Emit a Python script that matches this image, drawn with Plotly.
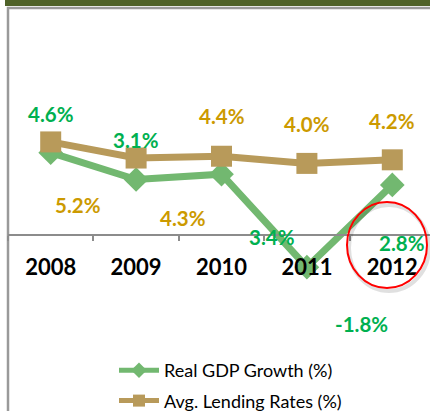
import plotly.graph_objects as go

# Categories and series values
years = ["2008", "2009", "2010", "2011", "2012"]
gdp_growth = [4.6, 3.1, 3.4, -1.8, 2.8]
lending_rates = [5.2, 4.3, 4.4, 4.0, 4.2]

# Per-point label offsets in pixels (x, y up-positive)
gdp_label_shift = [(0, 39), (0, 40), (50, -63), (55, -57), (10, -58)]
lending_label_shift = [(27, -63), (47, -60), (0, 40), (0, 39), (0, 39)]

GREEN_LINE = "#72b870"
TAN_LINE = "#b89a5a"
GREEN_TEXT = "#00b050"
GOLD_TEXT = "#cc9a00"
FONT = "Lato"

W, H = 430, 411
ML, MR, MT, MB = 8, 0, 9, 0
PW, PH = W - ML - MR, H - MT - MB
PX_PER_UNIT = 17.9
ZERO_PX = 235  # pixel row of the value axis zero
PX_PER_CAT = 85.4


def px_x(p):
    return (p - ML) / PW


def px_y(p):
    return (H - MB - p) / PH


y_top = (ZERO_PX - MT) / PX_PER_UNIT
y_bot = -(H - MB - ZERO_PX) / PX_PER_UNIT

fig = go.Figure()
fig.add_trace(go.Scatter(
    x=years, y=gdp_growth, name="Real GDP Growth (%)", mode="lines+markers",
    line=dict(color=GREEN_LINE, width=7),
    marker=dict(symbol="diamond", size=19, color=GREEN_LINE),
    legendgroup="gdp", cliponaxis=False,
))
fig.add_trace(go.Scatter(
    x=years, y=lending_rates, name="Avg. Lending Rates (%)", mode="lines+markers",
    line=dict(color=TAN_LINE, width=7),
    marker=dict(symbol="square", size=21, color=TAN_LINE),
    legendgroup="lend", cliponaxis=False,
))

annotations = []
# category axis: annotations are placed by category index
for i, (v, (dx, dy)) in enumerate(zip(gdp_growth, gdp_label_shift)):
    annotations.append(dict(x=i, y=v, xref="x", yref="y", text=f"{v:.1f}%",
                            showarrow=False, xshift=dx, yshift=dy,
                            font=dict(family=FONT, size=20.5, color=GREEN_TEXT, weight="bold")))
for i, (v, (dx, dy)) in enumerate(zip(lending_rates, lending_label_shift)):
    annotations.append(dict(x=i, y=v, xref="x", yref="y", text=f"{v:.1f}%",
                            showarrow=False, xshift=dx, yshift=dy,
                            font=dict(family=FONT, size=20.5, color=GOLD_TEXT, weight="bold")))

# Title text in the header bar (mostly above the visible area)
annotations.append(dict(x=px_x(214), y=px_y(5), xref="paper", yref="paper",
                        text="Rates", showarrow=False, xanchor="center", yanchor="bottom",
                        font=dict(family=FONT, size=22, color="white", weight="bold")))

shapes = [
    # header bar
    dict(type="rect", xref="paper", yref="paper", x0=px_x(5), x1=px_x(440),
         y0=px_y(6), y1=px_y(-5), fillcolor="#4f6228", line=dict(width=0), layer="below"),
    # chart-area border
    dict(type="rect", xref="paper", yref="paper", x0=px_x(8), x1=px_x(460),
         y0=px_y(440), y1=px_y(8), line=dict(color="#9a9a9a", width=2.5),
         fillcolor="rgba(0,0,0,0)", layer="below"),
    # highlight ring shadow
    dict(type="circle", xref="paper", yref="paper", x0=px_x(349), x1=px_x(429),
         y0=px_y(291), y1=px_y(205), line=dict(color="rgba(0,0,0,0.12)", width=4),
         layer="above"),
    # highlight ring
    dict(type="circle", xref="paper", yref="paper", x0=px_x(347), x1=px_x(427),
         y0=px_y(288), y1=px_y(202), line=dict(color="#ff0000", width=2),
         layer="above"),
]

fig.update_layout(
    width=W, height=H,
    margin=dict(l=ML, r=MR, t=MT, b=MB, pad=0, autoexpand=False),
    paper_bgcolor="white", plot_bgcolor="white",
    font=dict(family=FONT, color="black"),
    showlegend=True,
    legend=dict(x=px_x(114), y=px_y(352), xanchor="left", yanchor="top",
                font=dict(family=FONT, size=18, color="black"),
                bgcolor="rgba(0,0,0,0)", tracegroupgap=4, itemwidth=40,
                itemsizing="constant"),
    annotations=annotations,
    shapes=shapes,
    xaxis=dict(type="category", range=[-0.5, -0.5 + PW / PX_PER_CAT],
               anchor="free", position=px_y(ZERO_PX),
               showline=True, linecolor="#8c8c8c", linewidth=2,
               ticks="outside", tickson="boundaries", ticklen=5,
               tickcolor="#8c8c8c", tickwidth=2,
               ticklabelstandoff=13, showgrid=False, zeroline=False,
               tickfont=dict(family=FONT, size=22, color="black", weight="bold")),
    yaxis=dict(range=[y_bot, y_top], visible=False, showgrid=False, zeroline=False),
)

fig.write_html("out.html")
